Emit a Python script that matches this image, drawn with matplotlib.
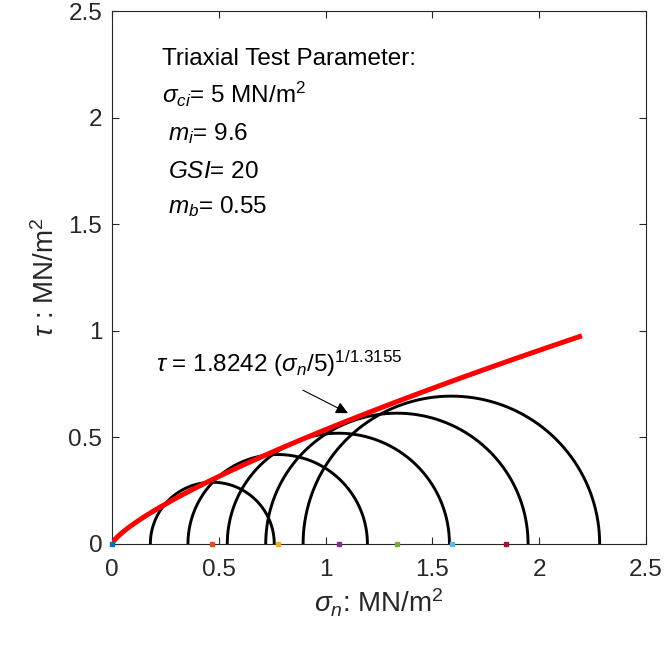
import numpy as np
import matplotlib
matplotlib.use("Agg")
import matplotlib.pyplot as plt

plt.rcParams['font.family'] = ['Liberation Sans', 'DejaVu Sans']
plt.rcParams['mathtext.fontset'] = 'custom'
plt.rcParams['mathtext.rm'] = 'Liberation Sans'
plt.rcParams['mathtext.it'] = 'Liberation Sans:italic'
plt.rcParams['mathtext.bf'] = 'Liberation Sans:bold'

# Mohr circles (minor / major principal stresses, MN/m^2)
sigma3 = [0.18, 0.356, 0.54, 0.72, 0.895]
sigma1 = [0.76, 1.196, 1.58, 1.948, 2.283]

# small coloured markers on the sigma_n axis
marker_x = [0.0, 0.468, 0.778, 1.062, 1.333, 1.592, 1.843]
marker_colors = ['#0072BD', '#D95319', '#EDB120', '#7E2F8E', '#77AC30', '#4DBEEE', '#A2142F']

# Failure envelope parameters: tau = A (sigma_n / sigma_ci)^(1/B)
env_A = 1.8242
env_sigci = 5.0
env_B = 1.3155
env_xmax = 2.2

xticks = [0, 0.5, 1, 1.5, 2, 2.5]
yticks = [0, 0.5, 1, 1.5, 2, 2.5]

fig = plt.figure(figsize=(6.66, 6.48), dpi=100)
ax = fig.add_axes([0.168, 0.1605, 0.802, 0.822])

theta = np.linspace(0, np.pi, 400)
for s3, s1 in zip(sigma3, sigma1):
    c = (s1 + s3) / 2
    r = (s1 - s3) / 2
    ax.plot(c + r * np.cos(theta), r * np.sin(theta), color='black', lw=2.1, zorder=3)

xs = np.linspace(0, env_xmax, 400)
ax.plot(xs, env_A * (xs / env_sigci) ** (1 / env_B), color='red', lw=3.6, zorder=4,
        solid_capstyle='butt')

for mx, mc in zip(marker_x, marker_colors):
    ax.plot([mx], [0], marker='s', ms=2.2, color=mc, mec=mc, zorder=5, clip_on=False)

ax.set_xlim(0, 2.5)
ax.set_ylim(0, 2.5)
ax.set_xticks(xticks)
ax.set_yticks(yticks)
ax.set_xticklabels([f"{t:g}" for t in xticks])
ax.set_yticklabels([f"{t:g}" for t in yticks])
ax.tick_params(direction='in', top=True, right=True, labelsize=17.5, length=5,
               width=0.8, color='#262626', labelcolor='#262626')
ax.tick_params(axis='x', pad=11)
ax.tick_params(axis='y', pad=7)
for sp in ax.spines.values():
    sp.set_color('#262626')
    sp.set_linewidth(0.8)

ax.set_xlabel(r'$\sigma_n$: MN/m$^2$', fontsize=20, color='#262626', labelpad=4)
ax.set_ylabel(r'$\tau$ : MN/m$^2$', fontsize=20, color='#262626', labelpad=6)

fs = 17.5
ax.text(0.233, 2.246, 'Triaxial Test Parameter:', fontsize=fs, va='baseline', ha='left')
ax.text(0.233, 2.072, r'$\sigma_{ci}$= 5 MN/m$^2$', fontsize=fs, va='baseline', ha='left')
ax.text(0.262, 1.894, r'$m_i$= 9.6', fontsize=fs, va='baseline', ha='left')
ax.text(0.262, 1.716, r'$GSI$= 20', fontsize=fs, va='baseline', ha='left')
ax.text(0.262, 1.552, r'$m_b$= 0.55', fontsize=fs, va='baseline', ha='left')

ax.text(0.205, 0.806, r'$\tau$ = 1.8242 ($\sigma_n$/5)$^{1/1.3155}$', fontsize=fs,
        va='baseline', ha='left')
ax.annotate('', xy=(1.105, 0.614), xytext=(0.894, 0.722),
            arrowprops=dict(arrowstyle='-|>', color='black', lw=0.8,
                            mutation_scale=18, shrinkA=0, shrinkB=0))

fig.savefig('out.png', dpi=100)
